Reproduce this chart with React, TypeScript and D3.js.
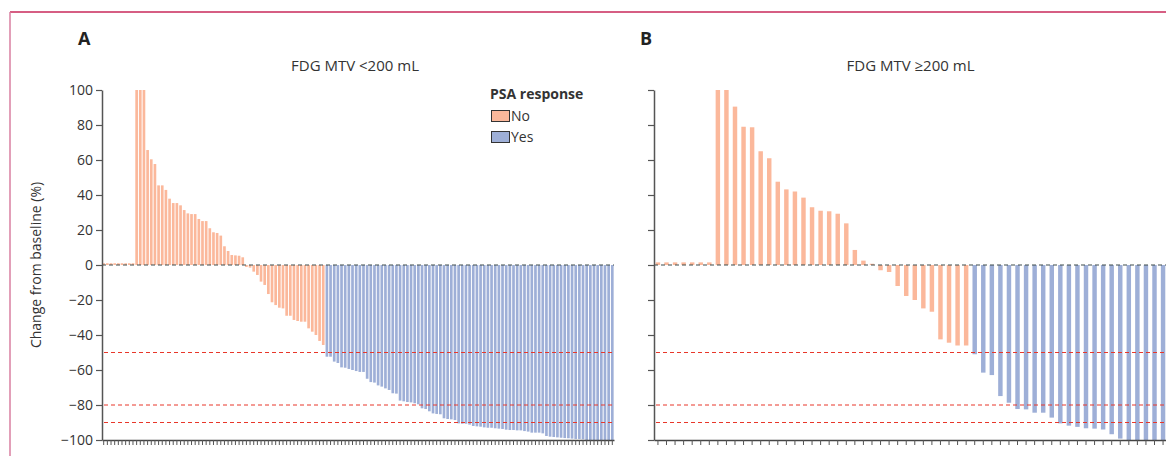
import React, { useEffect, useRef } from 'react';
import * as d3 from 'd3';

// % change from baseline in PSA, sorted per patient (FDG MTV < 200 mL)
const lowMtvChange = [
  1, 1, 1, 1, 1, 1, 1, 1, 1,
  100, 100, 100, 65.7, 60.4, 57.7, 45.5, 45.5, 42.9, 37.9, 35.4,
  35.4, 34.1, 31.4, 29.5, 29.1, 29.1, 26.3, 25.1, 25.1, 21,
  18.7, 18.3, 16.8, 10.7, 8, 5.7, 5.5, 5.3, 4.4, -1.1,
  -1.5, -3.8, -5.7, -9.5, -11.4, -16.6, -21.3, -22.9, -24.4, -24.8,
  -29, -29, -31.4, -32, -32.4, -32.4, -36.2, -38.1, -40, -43.4,
  -45.7, -52.4, -52.4, -55.2, -56, -58.5, -58.7, -59.4, -60, -60.6,
  -61.1, -61.1, -65, -66.9, -67.2, -68.8, -69.5, -70.5, -71.4, -73.3,
  -73.5, -77.5, -77.9, -78.3, -78.5, -79, -79.6, -81.9, -82.3, -83.6,
  -84.8, -85.1, -85.3, -87.6, -88, -88.2, -88.6, -90.5, -90.7, -90.7,
  -91.2, -92, -92.2, -92.4, -92.8, -93, -93, -93.3, -93.5, -93.7,
  -94.1, -94.3, -94.3, -94.5, -94.5, -94.9, -95.2, -95.8, -95.8, -95.8,
  -96.2, -97.7, -98.1, -98.3, -98.5, -98.7, -98.9, -99, -99.2, -99.4,
  -99.4, -99.6, -100, -100, -100, -100, -100, -100, -100, -100,
];

// FDG MTV >= 200 mL
const highMtvChange = [
  1.5, 1.5, 1.5, 1.5, 1.5, 1.5, 1.5,
  100, 100, 90.5, 79, 78.7, 65, 61, 47.6, 43.2, 42, 38.5, 33, 31,
  30.7, 29.3, 23.8, 8.6, 2.5, 0.7, -3, -4, -12, -17.7,
  -20, -24.8, -26.7, -42.5, -44.4, -46, -46, -51, -61.5, -62.9,
  -74.9, -78.7, -82.3, -82.5, -84.4, -84.4, -87.2, -90.5, -91.8, -92.5,
  -93.3, -93.5, -94, -96.7, -99.2, -100, -100, -100, -100, -100,
];

const panelTitles = ['FDG MTV <200 mL', 'FDG MTV \u2265200 mL'];
const panelLetters = ['A', 'B'];
const legendTitle = 'PSA response';
const responseLabels = ['No', 'Yes'];
const yTicks = [100, 80, 60, 40, 20, 0, -20, -40, -60, -80, -100];
const refLines = [-50, -80, -90];

const W = 1166;
const H = 456;
const FONT = "'Open Sans', 'Noto Sans', sans-serif";
const colorNo = '#fbb89b';
const colorYes = '#9eafd7';

export default function App() {
  const ref = useRef<SVGSVGElement>(null);

  useEffect(() => {
    const svg = d3.select(ref.current);
    svg.selectAll('*').remove();

    const top = 90, bottom = 440;
    const y = d3.scaleLinear().domain([-100, 100]).range([bottom, top]);
    const color = d3.scaleOrdinal<string>().domain(responseLabels).range([colorNo, colorYes]);

    // figure frame
    svg.append('line').attr('x1', 10).attr('x2', W).attr('y1', 12).attr('y2', 12)
      .attr('stroke', '#c8285a').attr('stroke-width', 1.5);
    svg.append('line').attr('x1', 10).attr('x2', 10).attr('y1', 12).attr('y2', H)
      .attr('stroke', '#d97fa0').attr('stroke-width', 1.5);

    const panels = [
      { data: lowMtvChange, left: 102, right: 614, padIn: 0.27, padOut: 0.1, labels: true },
      { data: highMtvChange, left: 654, right: 1167, padIn: 0.48, padOut: 0.2, labels: false },
    ];

    panels.forEach((p, pi) => {
      const x = d3.scaleBand<number>()
        .domain(d3.range(p.data.length))
        .range([p.left, p.right])
        .paddingInner(p.padIn)
        .paddingOuter(p.padOut);

      const g = svg.append('g');

      // bars, clipped to the +/-100 window
      g.append('g').selectAll('rect')
        .data(p.data)
        .join('rect')
        .attr('x', (d, i) => x(i)!)
        .attr('width', x.bandwidth())
        .attr('y', d => y(Math.max(0, Math.min(100, d))))
        .attr('height', d => Math.abs(y(Math.max(-100, Math.min(100, d))) - y(0)))
        .attr('fill', d => color(d <= -50 ? 'Yes' : 'No'));

      // reference lines
      g.selectAll('line.ref')
        .data(refLines)
        .join('line')
        .attr('class', 'ref')
        .attr('x1', p.left + 2).attr('x2', p.right)
        .attr('y1', d => y(d)).attr('y2', d => y(d))
        .attr('stroke', '#e8372a').attr('stroke-width', 1)
        .attr('stroke-dasharray', '4,3');

      g.append('line')
        .attr('x1', p.left).attr('x2', p.right)
        .attr('y1', y(0)).attr('y2', y(0))
        .attr('stroke', '#3f4d4d').attr('stroke-width', 1.2)
        .attr('stroke-dasharray', '4,3');

      // y axis
      const yAxis = d3.axisLeft(y).tickValues(yTicks).tickSize(6).tickSizeOuter(0)
        .tickFormat(d => p.labels ? ((d as number) < 0 ? '\u2212' + Math.abs(d as number) : String(d)) : '');
      const ya = g.append('g').attr('transform', `translate(${p.left},0)`).call(yAxis);
      ya.select('.domain').attr('stroke', '#555').attr('stroke-width', 1.5);
      ya.selectAll('.tick line').attr('stroke', '#555').attr('stroke-width', 1.2);
      ya.selectAll('.tick text')
        .attr('font-family', FONT).attr('font-size', 14).attr('fill', '#333');

      // x axis: one tick per patient
      const xa = g.append('g').attr('transform', `translate(0,${bottom})`)
        .call(d3.axisBottom(x).tickSize(5).tickSizeOuter(0).tickFormat(() => ''));
      xa.select('.domain').attr('stroke', '#444').attr('stroke-width', 1.5);
      xa.selectAll('.tick line').attr('stroke', '#555').attr('stroke-width', 1);

      // panel title and letter
      svg.append('text')
        .attr('x', (p.left + p.right) / 2 - (pi === 0 ? 3 : 0)).attr('y', 71)
        .attr('text-anchor', 'middle')
        .attr('font-family', FONT).attr('font-size', 15).attr('fill', '#333')
        .text(panelTitles[pi]);
      svg.append('text')
        .attr('x', pi === 0 ? 78 : 640).attr('y', 45)
        .attr('font-family', FONT).attr('font-size', 18).attr('font-weight', 'bold')
        .attr('fill', '#222')
        .text(panelLetters[pi]);
    });

    // y axis title
    svg.append('text')
      .attr('transform', `translate(41,${y(0)}) rotate(-90)`)
      .attr('text-anchor', 'middle')
      .attr('font-family', FONT).attr('font-size', 14).attr('fill', '#333')
      .text('Change from baseline (%)');

    // legend
    const lg = svg.append('g').attr('transform', 'translate(490,0)');
    lg.append('text').attr('x', 0).attr('y', 99)
      .attr('font-family', FONT).attr('font-size', 14).attr('font-weight', 'bold')
      .attr('fill', '#333').text(legendTitle);
    responseLabels.forEach((lab, i) => {
      lg.append('rect').attr('x', 1.5).attr('y', 110.5 + i * 21).attr('width', 18).attr('height', 11)
        .attr('fill', color(lab)).attr('stroke', '#333').attr('stroke-width', 1);
      lg.append('text').attr('x', 21).attr('y', 121 + i * 21)
        .attr('font-family', FONT).attr('font-size', 14).attr('fill', '#333').text(lab);
    });
  }, []);

  return (
    <svg ref={ref} width={W} height={H}
      style={{ position: 'absolute', left: 0, top: 0, background: '#fff' }} />
  );
}
